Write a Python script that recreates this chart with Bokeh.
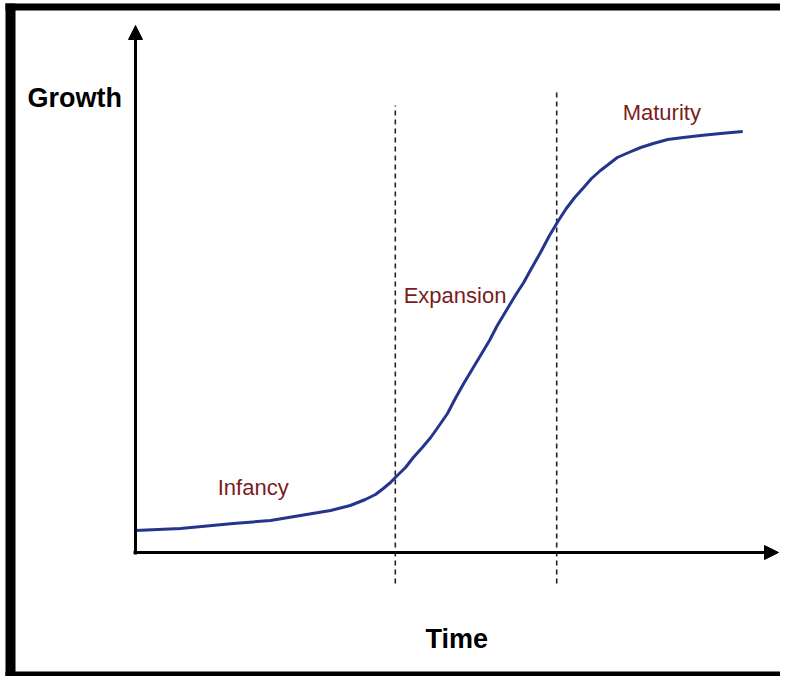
from bokeh.plotting import figure
from bokeh.models import Arrow, NormalHead, Range1d, ColumnDataSource
from bokeh.core.properties import value
from bokeh.embed import file_html
from bokeh.resources import INLINE

# --- data (time, growth) ---
time = [0.0, 0.75, 1.63, 2.25, 2.75, 3.25, 3.58, 3.83, 4.0, 4.13, 4.25, 4.33,
        4.5, 4.63, 4.78, 4.92, 5.05, 5.2, 5.33, 5.47, 5.62, 5.75, 5.9, 6.03,
        6.18, 6.33, 6.47, 6.58, 6.75, 6.9, 7.05, 7.18, 7.32, 7.47, 7.6, 7.75,
        7.88, 8.03, 8.22, 8.42, 8.63, 8.87, 9.13, 9.42, 9.75, 10.12]
growth = [0.44, 0.48, 0.58, 0.64, 0.74, 0.84, 0.94, 1.06, 1.16, 1.28, 1.40, 1.50,
          1.70, 1.90, 2.10, 2.30, 2.52, 2.78, 3.08, 3.38, 3.68, 3.94, 4.24, 4.54,
          4.84, 5.14, 5.40, 5.64, 6.00, 6.34, 6.64, 6.88, 7.10, 7.30, 7.48, 7.64,
          7.76, 7.90, 8.00, 8.10, 8.18, 8.26, 8.30, 8.34, 8.38, 8.42]
phase_bounds = [4.33, 7.02]
phase_tops = [8.94, 9.28]
phase_labels = ["Infancy", "Expansion", "Maturity"]
phase_label_x = [1.37, 4.47, 8.12]
phase_label_y = [1.30, 5.14, 8.80]

FONT = "Liberation Sans"

# pixel helpers for decorations (frame pixels -> data units)
def tx(px):
    return (px - 135) / 60.0

def gy(py):
    return (552 - py) / 50.0

W, H = 780, 676
p = figure(width=W, height=H, output_backend="svg", toolbar_location=None,
           x_axis_type=None, y_axis_type=None,
           x_range=Range1d(tx(0), tx(W)), y_range=Range1d(gy(H), gy(0)),
           min_border=0)
p.border_fill_color = "white"
p.background_fill_color = "white"
p.outline_line_color = None
p.grid.visible = False

# black frame (left, top, bottom)
p.quad(left=[tx(5), tx(5), tx(5)], right=[tx(15), tx(W), tx(W)],
       top=[gy(3), gy(3), gy(671)], bottom=[gy(H), gy(10), gy(H)],
       fill_color="black", line_color=None)

# dashed phase boundaries
p.segment(x0=phase_bounds, x1=phase_bounds, y0=[gy(583)] * 2, y1=phase_tops,
          line_color="#222222", line_width=1.6, line_dash="5 4")

# axes arrows
p.add_layout(Arrow(end=NormalHead(size=14, fill_color="black", line_color="black"),
                   x_start=tx(133), y_start=0, x_end=tx(778), y_end=0,
                   line_width=3, line_color="black"))
p.add_layout(Arrow(end=NormalHead(size=14, fill_color="black", line_color="black"),
                   x_start=0, y_start=gy(554), x_end=0, y_end=gy(25),
                   line_width=3, line_color="black"))

# S-curve
p.line(time, growth, line_color="#25348c", line_width=3, line_join="round")

# phase labels
src = ColumnDataSource(dict(x=phase_label_x, y=phase_label_y, t=phase_labels))
p.text(x="x", y="y", text="t", source=src, text_font=value(FONT),
       text_font_size="22px", text_color="#7b1c1c",
       text_align="left", text_baseline="alphabetic")

# axis titles
p.text(x=[tx(27)], y=[gy(97)], text=["Growth"], text_font=value(FONT),
       text_font_size="27px", text_font_style="bold", text_color="black",
       text_align="left", text_baseline="alphabetic")
p.text(x=[tx(425)], y=[gy(638)], text=["Time"], text_font=value(FONT),
       text_font_size="27px", text_font_style="bold", text_color="black",
       text_align="left", text_baseline="alphabetic")

open("out.html", "w").write(file_html(p, INLINE))
